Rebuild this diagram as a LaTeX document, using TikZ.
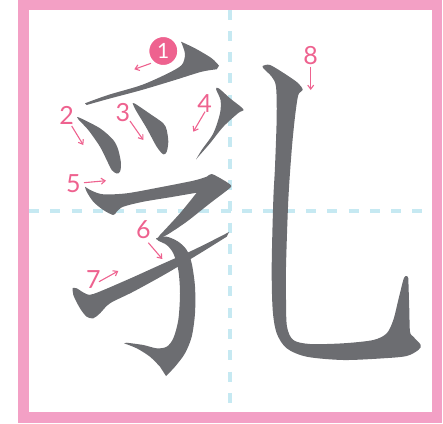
\documentclass[tikz,border=0pt]{standalone}
\usepackage{fontspec}
\setmainfont{Lato}
\usetikzlibrary{arrows.meta}
\definecolor{frame}{RGB}{243,160,197}
\definecolor{guide}{RGB}{198,233,242}
\definecolor{ink}{RGB}{108,109,113}
\definecolor{mark}{RGB}{238,98,143}
\tikzset{
  guideline/.style={draw=guide,line width=4pt,dash pattern=on 10pt off 11.3pt},
  inkfill/.style={fill=ink},
  num/.style={text=mark,inner sep=0pt,font=\fontsize{25}{25}\selectfont},
  badge/.style={circle,fill=mark,draw=white,line width=2pt,minimum size=30pt,inner sep=0pt,text=white,font=\fontsize{21}{21}\selectfont},
  arr/.style={draw=mark,line width=1.1pt,-{Straight Barb[length=4pt,width=6pt]}},
}
\begin{document}
\begin{tikzpicture}[x=1pt,y=-1pt]
\useasboundingbox (0,0) rectangle (443,423);
% guides
\draw[guideline] (230,9.5) -- (230,412);
\draw[guideline] (29,211) -- (432,211);
% stroke 1
\fill[inkfill] plot[smooth] coordinates {(181,41.7) (195,48.3) (211.7,58.3) (219,65.7)}
  -- plot[smooth] coordinates {(216.7,69.3) (201.7,71.7) (175,80) (141.7,90) (108,99) (86.7,105)}
  -- plot[smooth] coordinates {(85,103.3) (108,95) (141.7,85) (168,73.3) (181.7,65) (185,55) (183,46.7) (181,41.7)} -- cycle;
% stroke 2
\fill[inkfill] plot[smooth cycle] coordinates {(79,117.5) (100,128.3) (113.3,140) (118.3,150) (121,163.3) (120,171.7) (116.7,173.5) (111.7,170) (106.7,160) (100,146.7) (88.3,130) (78.5,119.5)};
% stroke 3
\fill[inkfill] plot[smooth cycle] coordinates {(134.3,103.3) (151.7,115) (163.3,123.3) (166.7,130) (168.3,141.7) (166.7,151.7) (163.3,154.3) (156.7,146.7) (146.7,128.3) (136.7,111.7) (133.3,105)};
% stroke 4
\fill[inkfill] plot[smooth] coordinates {(196,159.5) (201.7,150) (213.3,133.3) (220,113.3) (220.5,100) (216,89) (219,88.5) (230,98.3) (241.7,107.5) (243.3,110.5) (238.3,113) (223.3,126.7) (210,143.3) (198.3,156.7) (196,159.5)} -- cycle;
% stroke 5
\fill[inkfill] plot[smooth] coordinates {(85,186.7) (91.7,190.7) (103.3,194.3) (126.7,193.3) (160,187.3) (193.3,180.7) (206.7,176.7) (211.7,174) (223.3,180) (231,185.5) (228.3,189.3) (210,203.3) (186.7,221.7) (166.7,235) (156.7,239.3)}
  -- plot[smooth] coordinates {(160,235) (180,213.3) (196.7,192.7)}
  -- plot[smooth] coordinates {(170,197.3) (143.3,201.7) (123.3,206.7) (116.7,211.7) (113.3,215) (103.3,210) (93.3,201.7) (86.7,191.7) (85,186.7)} -- cycle;
% stroke 6
\fill[inkfill] plot[smooth] coordinates {(156,238.3) (166.7,236.7) (178.3,241.7) (186.7,250) (191.7,263.3) (195,286.7) (195,313.3) (191.7,336.7) (185,353.3) (175,366.7) (166,376)}
  -- plot[smooth] coordinates {(160,366.7) (150,356.7) (136.7,348.3) (124,343.3)}
  -- plot[smooth] coordinates {(126.7,342.7) (143.3,345) (156.7,348.3) (166.7,346.7) (173.3,338.3) (178.3,320) (180,293.3) (178.3,270) (173.3,253.3) (166.7,245) (158.3,240.7) (156,238.3)} -- cycle;
% stroke 7
\fill[inkfill] plot[smooth] coordinates {(72.7,288) (76.7,288.3) (85,293.3) (93.3,294) (126.7,280) (160,265) (193.3,250) (220,236.7) (229,232)}
  -- plot[smooth] coordinates {(226.7,236.7) (200,253.3) (166.7,273.3) (133.3,291.7) (110,303.3) (100,313.3) (93.3,318.3) (86.7,316.7) (80,308.3) (73.3,295) (72.7,288)} -- cycle;
% stroke 8
\fill[inkfill] plot[smooth] coordinates {(262.7,66) (270,65) (286.7,75) (298.3,83.3) (302.7,90) (298.3,95) (295,116.7) (291.7,150) (288.3,200) (286,266.7) (286,300) (287,326.7) (293.3,340) (310,344) (343.3,343.3) (373.3,340) (386.7,333.3) (393.3,320) (398.3,300) (403.3,280) (405.5,276) (407.5,276.5)}
  -- plot[smooth] coordinates {(408.3,278.3) (409.3,310) (410,331.7) (413.3,336.7) (420.7,345) (418.3,350) (406.7,356) (383.3,358.3) (343.3,360) (306.7,356.7) (286.7,348.3) (276.7,333.3) (272.7,310) (271.7,266.7) (273.3,200) (275,166.7) (276.7,116.7) (276,86.7) (271.7,76.7) (263.3,68.3) (262.7,66)} -- cycle;
% labels
\node[badge] (n1) at (163.3,51) {1};
\node[num] (n2) at (66.7,115.7) {2};
\node[num] (n3) at (122.8,112.8) {3};
\node[num] (n4) at (204.5,103.8) {4};
\node[num] (n5) at (73.3,183.3) {5};
\node[num] (n6) at (143.3,230) {6};
\node[num] (n7) at (93.3,279.3) {7};
\node[num] (n8) at (310.7,56) {8};
\coordinate (a1s) at (151,63.3);  \coordinate (a1e) at (134.3,69.3);
\coordinate (a2s) at (71.7,126);  \coordinate (a2e) at (83.3,145);
\coordinate (a3s) at (130,121);   \coordinate (a3e) at (143.3,140);
\coordinate (a4s) at (205,111.7); \coordinate (a4e) at (193.3,131.7);
\coordinate (a5s) at (84,182.7);  \coordinate (a5e) at (106,180.7);
\coordinate (a6s) at (148.3,242.7); \coordinate (a6e) at (162.3,259);
\coordinate (a7s) at (99,281.7);  \coordinate (a7e) at (118.3,271);
\coordinate (a8s) at (310.7,66.7); \coordinate (a8e) at (310.7,90);
\draw[arr] (a1s) -- (a1e);
\draw[arr] (a2s) -- (a2e);
\draw[arr] (a3s) -- (a3e);
\draw[arr] (a4s) -- (a4e);
\draw[arr] (a5s) -- (a5e);
\draw[arr] (a6s) -- (a6e);
\draw[arr] (a7s) -- (a7e);
\draw[arr] (a8s) -- (a8e);
% frame
\draw[draw=frame,line width=10.5pt] (23.5,4.5) rectangle (437,417.5);
\end{tikzpicture}
\end{document}
